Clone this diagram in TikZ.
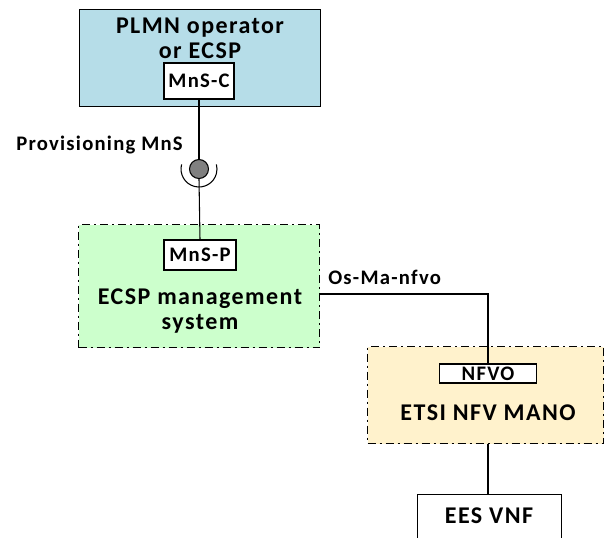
\documentclass[tikz,border=0pt]{standalone}
\usepackage{fontspec}
\setmainfont{Carlito}[LetterSpace=6]
\begin{document}
\begin{tikzpicture}[x=0.75pt,y=-0.75pt,
  every node/.style={font=\bfseries},
  dashdot/.style={dash pattern=on 6pt off 3pt on 1.5pt off 3pt},
  bigbox/.style={draw, line width=0.8pt, inner sep=0pt},
  smallbox/.style={draw, line width=0.8pt, fill=white, inner sep=0pt, font=\bfseries\fontsize{15.5}{17}\selectfont},
  lbl/.style={font=\bfseries\fontsize{15.5}{17}\selectfont, inner sep=0pt},
  big/.style={font=\bfseries\fontsize{18}{19}\selectfont, align=center, inner sep=0pt},
  conn/.style={line width=0.8pt}]
\useasboundingbox (0,0) rectangle (604,537);
% top box
\node[bigbox, fill={rgb,255:red,182;green,221;blue,232}, minimum width=241*0.75pt, minimum height=97*0.75pt, anchor=north west] (plmn) at (79,9) {};
\node[big] (plmntxt) at (200,38) {PLMN operator\\or ECSP};
\node[smallbox, minimum width=70*0.75pt, minimum height=36*0.75pt] (mnsc) at (199,81) {MnS-C};
% green box
\node[bigbox, dashdot, fill={rgb,255:red,204;green,255;blue,204}, minimum width=241*0.75pt, minimum height=123*0.75pt, anchor=north west] (ecsp) at (78,224) {};
\node[smallbox, minimum width=72*0.75pt, minimum height=30*0.75pt] (mnsp) at (200,255) {MnS-P};
\node[big] (ecsptxt) at (200,311) {ECSP management\\system};
% orange box
\node[bigbox, dashdot, fill={rgb,255:red,255;green,242;blue,204}, minimum width=236*0.75pt, minimum height=97*0.75pt, anchor=north west] (mano) at (367,346) {};
\node[smallbox, minimum width=97*0.75pt, minimum height=19*0.75pt] (nfvo) at (488,373.5) {NFVO};
\node[big] (manotxt) at (488,413) {ETSI NFV MANO};
% EES VNF
\node[bigbox, fill=white, minimum width=144*0.75pt, minimum height=60*0.75pt, anchor=north west] (ees) at (417,494) {};
\node[big] (eestxt) at (489,516) {EES VNF};
% socket
\node[circle, draw, line width=0.8pt, fill={rgb,255:red,128;green,128;blue,128}, minimum size=19*0.75pt, inner sep=0pt] (ball) at (199,169) {};
\draw[conn] (199,169) ++(195:18) arc[start angle=195, end angle=-15, radius=18];
\draw[conn] (mnsc.south) -- (ball.north);
\draw[conn] (ball.south) -- (mnsp.north);
\node[lbl, anchor=east] (prov) at (183,145) {Provisioning MnS};
% Os-Ma-nfvo
\coordinate (osstart) at (319,294);
\draw[conn] (osstart) -| (nfvo.north);
\node[lbl, anchor=base west] (oslbl) at (328,284) {Os-Ma-nfvo};
\draw[conn] (mano.south -| nfvo) -- (ees.north -| nfvo);
\end{tikzpicture}
\end{document}
